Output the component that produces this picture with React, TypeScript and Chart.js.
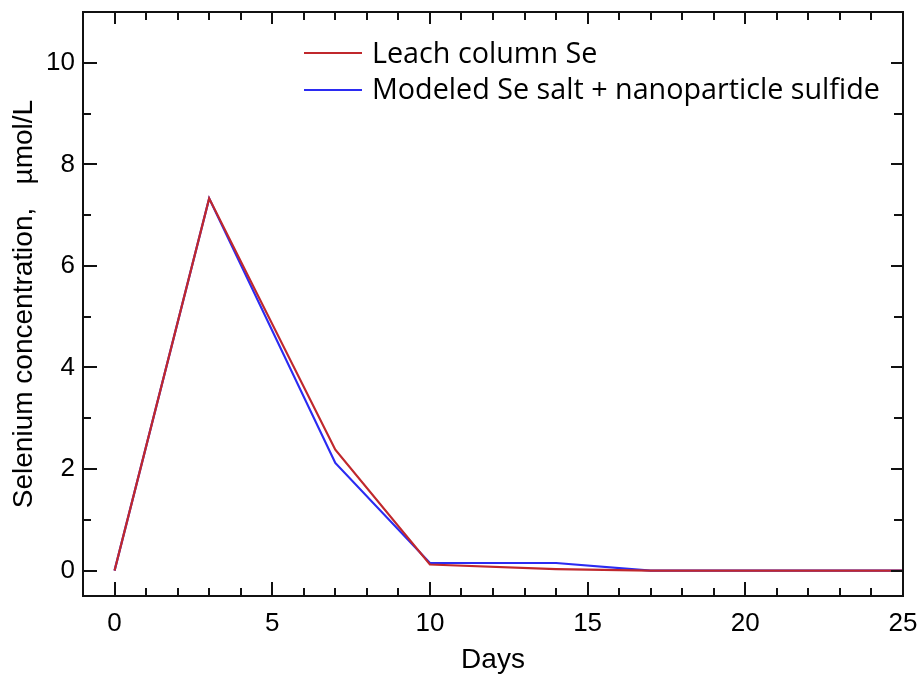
import React, { useEffect, useRef } from "react";
import { Chart, registerables } from "chart.js";

Chart.register(...registerables);

const days = [0, 3, 7, 10, 14, 17, 25];
const leachSe = [0, 7.33, 2.38, 0.12, 0.03, 0.0, 0.0];
const modeledSe = [0, 7.33, 2.12, 0.15, 0.15, 0.0, 0.0];
const xTickValues = [0, 5, 10, 15, 20, 25];
const yTickValues = [0, 2, 4, 6, 8, 10];
const seriesLabels = ["Leach column Se", "Modeled Se salt + nanoparticle sulfide"];
const seriesColors = ["#c0282c", "#2b2bf2"];
const xTitle = "Days";
const yTitle = "Selenium concentration,   \u00b5mol/L";

const framePlugin = {
  id: "frameTicks",
  afterDraw(chart: any) {
    const { ctx, chartArea, scales } = chart;
    const { left, right, top, bottom } = chartArea;
    const x = scales.x;
    const y = scales.y;
    ctx.save();
    ctx.strokeStyle = "#111";
    ctx.lineWidth = 2;
    ctx.lineCap = "butt";
    const seg = (x1: number, y1: number, x2: number, y2: number) => {
      ctx.beginPath();
      ctx.moveTo(x1, y1);
      ctx.lineTo(x2, y2);
      ctx.stroke();
    };
    for (let v = 0; v <= 25; v++) {
      const px = Math.round(x.getPixelForValue(v));
      const major = v % 5 === 0;
      seg(px, bottom, px, bottom - (major ? 14 : 8));
      seg(px, top, px, top + (major ? 12 : 8));
    }
    for (let v = 0; v <= 10; v++) {
      const py = Math.round(y.getPixelForValue(v));
      const major = v % 2 === 0;
      seg(left, py, left + (major ? 14 : 8), py);
      seg(right, py, right - (major ? 12 : 9), py);
    }
    ctx.strokeRect(left, top, right - left, bottom - top);

    // legend
    const lx0 = 304;
    const lx1 = 362;
    const tx = 372;
    const rows = [
      { lineY: 53, textY: 63 },
      { lineY: 90, textY: 99 },
    ];
    let size = 24;
    ctx.font = `${size}px "Open Sans"`;
    const w = ctx.measureText(seriesLabels[1]).width;
    size = (size * 508) / w;
    ctx.font = `${size}px "Open Sans"`;
    ctx.textBaseline = "alphabetic";
    ctx.textAlign = "left";
    ctx.fillStyle = "#000";
    rows.forEach((r, i) => {
      ctx.strokeStyle = seriesColors[i];
      ctx.lineWidth = 2;
      seg(lx0, r.lineY, lx1, r.lineY);
      ctx.fillText(seriesLabels[i], tx, r.textY);
    });
    ctx.restore();
  },
};

const zeroPad = (s: any) => {
  s.paddingTop = 0;
  s.paddingBottom = 0;
  s.paddingLeft = 0;
  s.paddingRight = 0;
};

export default function App() {
  const ref = useRef<HTMLCanvasElement | null>(null);
  useEffect(() => {
    if (!ref.current) return;
    const chart = new Chart(ref.current, {
      type: "line",
      data: {
        datasets: [
          {
            label: seriesLabels[0],
            data: days.map((d, i) => ({ x: d, y: leachSe[i] })),
            borderColor: seriesColors[0],
            borderWidth: 2.2,
            pointRadius: 0,
            tension: 0,
            fill: false,
          },
          {
            label: seriesLabels[1],
            data: days.map((d, i) => ({ x: d, y: modeledSe[i] })),
            borderColor: seriesColors[1],
            borderWidth: 2.2,
            pointRadius: 0,
            tension: 0,
            fill: false,
          },
        ],
      },
      options: {
        animation: false,
        responsive: false,
        maintainAspectRatio: false,
        layout: { padding: { top: 12, right: 14, left: 0, bottom: 0 } },
        plugins: { legend: { display: false }, tooltip: { enabled: false } },
        scales: {
          x: {
            type: "linear",
            min: -1,
            max: 25,
            grid: { display: false, drawTicks: false },
            border: { display: false },
            afterBuildTicks: (s: any) => {
              s.ticks = xTickValues.map((v) => ({ value: v }));
            },
            afterFit: (s: any) => {
              s.height = 81;
              zeroPad(s);
            },
            ticks: {
              color: "#000",
              font: { family: "Liberation Sans", size: 26 },
              padding: 12,
              maxRotation: 0,
              autoSkip: false,
            },
            title: {
              display: true,
              text: xTitle,
              color: "#000",
              font: { family: "Liberation Sans", size: 28 },
              padding: { top: 0, bottom: 0 },
            },
          },
          y: {
            type: "linear",
            min: -0.5,
            max: 11,
            grid: { display: false, drawTicks: false },
            border: { display: false },
            afterBuildTicks: (s: any) => {
              s.ticks = yTickValues.map((v) => ({ value: v }));
            },
            afterFit: (s: any) => {
              s.width = 83;
              zeroPad(s);
            },
            ticks: {
              color: "#000",
              font: { family: "Liberation Sans", size: 26 },
              padding: 8,
              autoSkip: false,
            },
            title: {
              display: true,
              text: yTitle,
              color: "#000",
              font: { family: "Liberation Sans", size: 28 },
              padding: { top: 7, bottom: 0 },
            },
          },
        },
      },
      plugins: [framePlugin],
    });
    return () => chart.destroy();
  }, []);
  return (
    <div style={{ position: "absolute", left: 0, top: 0, width: 917, height: 677, background: "#fff" }}>
      <canvas ref={ref} width={917} height={677} style={{ width: 917, height: 677 }} />
    </div>
  );
}
